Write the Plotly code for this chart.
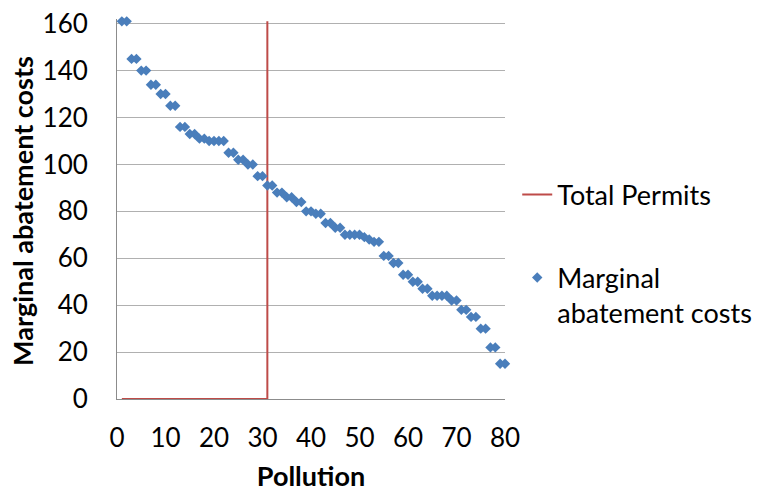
import plotly.graph_objects as go

# Marginal abatement cost of each unit of pollution (units 1..80)
pollution = list(range(1, 81))
abatement_costs = [
    161, 161, 145, 145, 140, 140, 134, 134, 130, 130,
    125, 125, 116, 116, 113, 113, 111, 111, 110, 110,
    110, 110, 105, 105, 102, 102, 100, 100, 95, 95,
    91, 91, 88, 88, 86, 86, 84, 84, 80, 80,
    79, 79, 75, 75, 73, 73, 70, 70, 70, 70,
    69, 68, 67, 67, 61, 61, 58, 58, 53, 53,
    50, 50, 47, 47, 44, 44, 44, 44, 42, 42,
    38, 38, 35, 35, 30, 30, 22, 22, 15, 15,
]

# Permit cap drawn as an L: along the bottom, then straight up at the cap
permits_x = [1, 31, 31]
permits_y = [0, 0, 161]

y_ticks = [0, 20, 40, 60, 80, 100, 120, 140, 160]
x_ticks = [0, 10, 20, 30, 40, 50, 60, 70, 80]

FONT = "Lato"
AXIS = "#8c8c8c"

fig = go.Figure()
fig.add_trace(go.Scatter(
    x=permits_x, y=permits_y, mode="lines", name="Total Permits",
    line=dict(color="#BE4B48", width=2), legendgroup="a",
    cliponaxis=False,
))
fig.add_trace(go.Scatter(
    x=pollution, y=abatement_costs, mode="markers",
    name="Marginal<br>abatement costs",
    marker=dict(symbol="diamond", size=8, color="#4A7EBB"),
    legendgroup="b", cliponaxis=False,
))

fig.update_layout(
    width=764, height=494,
    margin=dict(l=117, r=259, t=19, b=95),
    paper_bgcolor="white", plot_bgcolor="white",
    font=dict(family=FONT, size=26, color="black"),
    showlegend=True,
    legend=dict(
        xref="container", yref="container",
        x=0.677, y=0.486, xanchor="left", yanchor="middle",
        font=dict(family=FONT, size=27, color="black"),
        tracegroupgap=45, valign="top", itemwidth=30,
        bgcolor="rgba(0,0,0,0)",
    ),
    xaxis=dict(
        range=[0, 80], tickvals=x_ticks, ticktext=[str(v) for v in x_ticks],
        showgrid=False, zeroline=False, showline=True, linecolor=AXIS,
        linewidth=1, ticks="", ticklabelstandoff=16, automargin=False,
        layer="below traces",
        tickfont=dict(family=FONT, size=26),
        title=dict(text="<b>Pollution</b>", standoff=14,
                   font=dict(family=FONT, size=27)),
    ),
    yaxis=dict(
        range=[0, 162], tickvals=y_ticks, ticktext=[str(v) for v in y_ticks],
        showgrid=True, gridcolor="#b0b0b0", gridwidth=1,
        zeroline=False, showline=True, linecolor=AXIS, linewidth=1,
        ticks="", ticklabelstandoff=23, automargin=False,
        layer="below traces",
        tickfont=dict(family=FONT, size=26),
    ),
    annotations=[dict(
        text="<b>Marginal abatement costs</b>", textangle=-90,
        xref="paper", yref="paper", x=0, y=0.495,
        xanchor="center", yanchor="middle", xshift=-94,
        showarrow=False, font=dict(family=FONT, size=27, color="black"),
    )],
)

fig.write_html("out.html")
